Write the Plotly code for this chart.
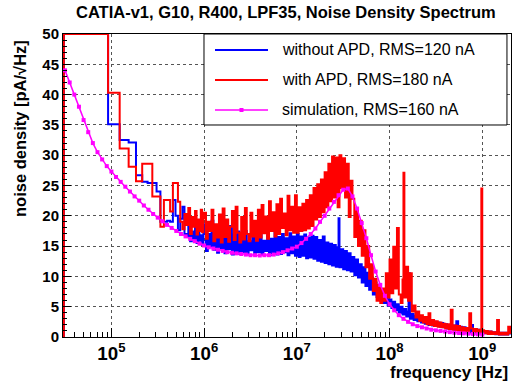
import math
import plotly.graph_objects as go

# ---------------- text ----------------
TITLE = "CATIA-v1, G10, R400, LPF35, Noise Density Spectrum"
X_TITLE = "frequency [Hz]"
Y_TITLE = "noise density [pA/\u221aHz]"
LEGEND_LABELS = ["without APD, RMS=120 nA", "with APD, RMS=180 nA", "simulation, RMS=160 nA"]

BLUE, RED, MAGENTA = "#0000ff", "#ff0000", "#ff00ff"

# ---------------- measured spectra: low-frequency histogram bins ----------------
BIN_WIDTH_HZ = 30.7e3   # FFT bin width; bin k starts at k*BIN_WIDTH_HZ (k = 1, 2, ...)
red_bins = [50, 50, 40.3, 31.1, 28.1, 25.7, 28.6, 28.6, 23.2, 23.2, 18.2, 22.6, 22.6, 20.7, 25.4, 25.4,
            22.3, 19.0, 17.8, 20.3, 18.5, 21.3, 17.0, 19.8, 18.2, 20.8, 16.9, 19.4, 17.5, 21.0, 17.3, 19.6]
blue_bins = [50, 50, 35.1, 32.5, 32.1, 26.7, 25.6, 25.4, 25.4, 24.0, 19.0, 19.0, 19.2, 19.0, 22.6, 20.0,
             17.6, 19.5, 21.5, 17.0, 16.5, 18.8, 15.8, 17.4, 16.2, 18.6, 15.5, 17.8, 15.9, 16.8, 15.2, 17.0]

# ---------------- measured spectra: dense region (log10 of frequency in Hz) ----------------
noise_logf = [
    6.00, 6.02, 6.04, 6.06, 6.08, 6.10, 6.12, 6.14, 6.16, 6.18,
    6.20, 6.22, 6.24, 6.26, 6.28, 6.30, 6.32, 6.34, 6.36, 6.38,
    6.40, 6.42, 6.44, 6.46, 6.48, 6.50, 6.52, 6.54, 6.56, 6.58,
    6.60, 6.62, 6.64, 6.66, 6.68, 6.70, 6.72, 6.74, 6.76, 6.78,
    6.80, 6.82, 6.84, 6.86, 6.88, 6.90, 6.92, 6.94, 6.96, 6.98,
    7.00, 7.02, 7.04, 7.06, 7.08, 7.10, 7.12, 7.14, 7.16, 7.18,
    7.20, 7.22, 7.24, 7.26, 7.28, 7.30, 7.32, 7.34, 7.36, 7.38,
    7.40, 7.42, 7.44, 7.46, 7.48, 7.50, 7.52, 7.54, 7.56, 7.58,
    7.60, 7.62, 7.64, 7.66, 7.68, 7.70, 7.72, 7.74, 7.76, 7.78,
    7.80, 7.82, 7.84, 7.86, 7.88, 7.90, 7.92, 7.94, 7.96, 7.98,
    8.00, 8.02, 8.04, 8.06, 8.08, 8.10, 8.12, 8.14, 8.16, 8.18,
    8.20, 8.22, 8.24, 8.26, 8.28, 8.30, 8.32, 8.34, 8.36, 8.38,
    8.40, 8.42, 8.44, 8.46, 8.48, 8.50, 8.52, 8.54, 8.56, 8.58,
    8.60, 8.62, 8.64, 8.66, 8.68, 8.70, 8.72, 8.74, 8.76, 8.78,
    8.80, 8.82, 8.84, 8.86, 8.88, 8.90, 8.92, 8.94, 8.96, 8.98,
    9.00, 9.02, 9.04, 9.06, 9.08, 9.10, 9.12, 9.14, 9.16, 9.18,
    9.20, 9.22, 9.24, 9.26, 9.28, 9.30,
]
red_noise = [
    20.5, 16.2, 19.0, 17.5, 21.0, 15.8, 18.6, 16.4, 20.2, 15.6,
    21.2, 16.5, 19.4, 15.7, 18.2, 20.8, 16.0, 21.5, 17.2, 15.6,
    19.8, 16.1, 21.3, 17.0, 15.8, 20.5, 16.6, 19.2, 15.9, 21.0,
    16.4, 21.8, 17.1, 19.9, 16.2, 22.4, 17.5, 20.6, 16.6, 21.9,
    17.0, 22.8, 18.0, 20.4, 16.8, 23.3, 17.6, 21.5, 17.2, 23.4,
    17.2, 21.4, 17.5, 22.0, 17.6, 22.6, 17.9, 23.4, 18.3, 24.6,
    19.4, 25.2, 19.8, 26.0, 20.6, 27.2, 21.4, 28.6, 22.4, 29.8,
    23.0, 29.6, 21.4, 30.0, 24.6, 29.5, 23.0, 28.6, 19.8, 25.8,
    22.8, 16.5, 21.0, 15.0, 19.2, 13.4, 17.6, 11.5, 15.0, 9.6,
    12.0, 7.6, 9.6, 6.0, 8.6, 5.6, 8.0, 6.0, 10.5, 6.5,
    12.8, 7.2, 14.9, 8.0, 18.0, 7.0, 5.6, 9.5, 6.5, 11.6,
    6.0, 10.5, 4.2, 5.2, 3.2, 4.2, 2.7, 3.6, 2.4, 3.3,
    2.1, 3.9, 2.0, 2.8, 1.8, 2.6, 1.7, 2.4, 1.6, 2.2,
    1.4, 2.1, 1.3, 4.5, 1.2, 1.9, 1.1, 1.8, 1.0, 1.6,
    0.9, 1.5, 0.9, 3.9, 1.4, 0.8, 1.3, 0.7, 1.2, 0.7,
    1.1, 0.6, 1.0, 0.5, 0.9, 0.5, 0.8, 0.5, 2.8, 0.4,
    0.7, 0.4, 0.7, 0.4, 1.7, 0.5,
]
blue_noise = [
    18.6, 14.2, 17.0, 15.0, 19.2, 14.4, 16.8, 13.9, 18.0, 14.6,
    17.6, 13.8, 16.2, 14.5, 18.3, 13.6, 16.9, 14.1, 17.4, 13.7,
    16.6, 14.0, 17.5, 13.6, 15.8, 14.3, 17.1, 13.5, 16.4, 14.0,
    17.0, 13.6, 15.9, 14.2, 16.8, 13.5, 16.2, 13.8, 17.2, 13.6,
    16.5, 13.7, 17.0, 14.0, 16.3, 13.5, 17.1, 13.8, 16.6, 13.4,
    17.0, 13.2, 16.6, 13.4, 16.9, 13.0, 16.4, 13.1, 16.7, 12.9,
    16.5, 12.6, 16.0, 12.4, 16.6, 12.2, 15.6, 12.0, 15.4, 11.8,
    15.2, 11.6, 14.8, 11.5, 14.5, 11.2, 14.2, 11.0, 13.8, 10.8,
    13.2, 10.2, 12.8, 9.8, 12.0, 9.0, 11.5, 8.4, 10.6, 7.8,
    9.8, 7.0, 9.0, 6.6, 8.4, 6.0, 7.6, 5.6, 7.0, 5.2,
    6.2, 4.8, 5.8, 4.4, 5.4, 4.0, 5.0, 3.7, 4.6, 3.4,
    4.2, 3.0, 3.8, 2.8, 3.5, 2.6, 3.2, 2.4, 3.1, 2.2,
    2.9, 2.0, 2.7, 1.9, 2.5, 1.8, 2.4, 1.7, 2.3, 1.6,
    2.1, 1.4, 2.0, 1.3, 1.9, 1.2, 2.6, 1.1, 1.7, 1.0,
    1.6, 0.9, 1.5, 0.8, 2.0, 0.8, 1.3, 0.7, 1.2, 0.6,
    1.0, 0.6, 0.9, 0.5, 0.9, 0.5, 0.8, 0.45, 0.8, 0.4,
    0.7, 0.4, 0.7, 0.4, 0.6, 0.4,
]
# isolated narrow lines (log10 f, value)
red_spike_logf = [8.15, 8.99]
red_spike_val = [27.1, 24.5]
blue_spike_logf = [7.45, 8.205]
blue_spike_val = [19.6, 10.5]

# ---------------- simulation ----------------
sim_logf = [
    4.50, 4.55, 4.60, 4.65, 4.70, 4.75, 4.80, 4.85, 4.90, 4.95,
    5.00, 5.05, 5.10, 5.15, 5.20, 5.25, 5.30, 5.35, 5.40, 5.45,
    5.50, 5.55, 5.60, 5.65, 5.70, 5.75, 5.80, 5.85, 5.90, 5.95,
    6.00, 6.05, 6.10, 6.15, 6.20, 6.25, 6.30, 6.35, 6.40, 6.45,
    6.50, 6.55, 6.60, 6.65, 6.70, 6.75, 6.80, 6.85, 6.90, 6.95,
    7.00, 7.05, 7.10, 7.15, 7.20, 7.25, 7.30, 7.35, 7.40, 7.45,
    7.50, 7.55, 7.60, 7.65, 7.70, 7.75, 7.80, 7.85, 7.90, 7.95,
    8.00, 8.05, 8.10, 8.15, 8.20, 8.25, 8.30, 8.35, 8.40, 8.45,
    8.50, 8.55, 8.60, 8.65, 8.70, 8.75, 8.80, 8.85, 8.90, 8.95,
    9.00,
]
sim_val = [
    44.0, 42.0, 40.0, 38.0, 35.8, 33.8, 32.0, 30.5, 29.3, 28.2,
    27.3, 26.4, 25.6, 24.8, 24.0, 23.2, 22.5, 21.7, 21.0, 20.3,
    19.7, 19.1, 18.5, 18.0, 17.5, 17.0, 16.6, 16.2, 15.8, 15.4,
    15.1, 14.8, 14.6, 14.4, 14.2, 14.0, 13.9, 13.8, 13.7, 13.6,
    13.5, 13.5, 13.45, 13.5, 13.5, 13.6, 13.8, 14.0, 14.3, 14.6,
    14.9, 15.5, 16.2, 17.0, 17.9, 19.0, 20.0, 21.2, 22.3, 23.4,
    24.3, 24.5, 23.2, 21.2, 18.8, 16.3, 13.5, 10.8, 8.6, 6.8,
    5.4, 4.4, 3.6, 3.0, 2.5, 2.1, 1.8, 1.6, 1.4, 1.2,
    1.1, 1.0, 0.9, 0.8, 0.7, 0.65, 0.6, 0.55, 0.5, 0.45,
    0.4,
]


def build_series(bins, noise, spike_logf, spike_val):
    # histogram outline: starts from the zero baseline at the first bin edge
    pts = [(BIN_WIDTH_HZ, 0.0)]
    pts += [((k + 1) * BIN_WIDTH_HZ, v) for k, v in enumerate(bins)]
    dense = [(10 ** lf, v) for lf, v in zip(noise_logf, noise)]
    dense += [(10 ** lf, v) for lf, v in zip(spike_logf, spike_val)]
    dense.sort(key=lambda p: p[0])
    pts += dense
    return [p[0] for p in pts], [p[1] for p in pts]


bx, by = build_series(blue_bins, blue_noise, blue_spike_logf, blue_spike_val)
rx, ry = build_series(red_bins, red_noise, red_spike_logf, red_spike_val)
sx = [10 ** lf for lf in sim_logf]

fig = go.Figure()
fig.add_trace(go.Scatter(x=bx, y=by, mode="lines", line=dict(color=BLUE, width=2, shape="hv"),
                         name=LEGEND_LABELS[0], showlegend=False))
fig.add_trace(go.Scatter(x=rx, y=ry, mode="lines", line=dict(color=RED, width=2, shape="hv"),
                         name=LEGEND_LABELS[1], showlegend=False))
fig.add_trace(go.Scatter(x=sx, y=sim_val, mode="lines+markers", line=dict(color=MAGENTA, width=1.5),
                         marker=dict(symbol="square", size=4, color=MAGENTA),
                         name=LEGEND_LABELS[2], showlegend=False))

FONT = "Liberation Sans"
axis_common = dict(
    ticks="inside", tickcolor="black", tickwidth=1,
    showgrid=True, gridcolor="#555555", griddash="dot", gridwidth=1,
    showline=True, linecolor="black", linewidth=1, mirror=True, zeroline=False,
    tickfont=dict(family=FONT, size=15, color="black", weight="bold"),
)
fig.update_xaxes(type="log", range=[4.478, 9.31], dtick=1, exponentformat="power", ticklen=9,
                 minor=dict(ticks="inside", ticklen=5, tickcolor="black", showgrid=False),
                 **axis_common)
fig.update_yaxes(range=[0, 50], tick0=0, dtick=5, ticklen=8,
                 minor=dict(dtick=1, ticks="inside", ticklen=4, tickcolor="black", showgrid=False),
                 **axis_common)

# ---------------- legend box (drawn manually, ROOT style) ----------------
L_X0, L_X1, L_Y0, L_Y1 = 0.3147, 0.991, 0.6997, 1.0
rows_y = [0.9472, 0.8482, 0.7492]
colors = [BLUE, RED, MAGENTA]
shapes = [dict(type="rect", xref="paper", yref="paper", x0=L_X0, x1=L_X1, y0=L_Y0, y1=L_Y1,
               line=dict(color="black", width=1), fillcolor="white", layer="above")]
annotations = []
for lab, yy, c in zip(LEGEND_LABELS, rows_y, colors):
    shapes.append(dict(type="line", xref="paper", yref="paper", x0=0.3393, x1=0.4576, y0=yy, y1=yy,
                       line=dict(color=c, width=2 if c != MAGENTA else 1.5), layer="above"))
    annotations.append(dict(text=lab, xref="paper", yref="paper", x=0.4844, y=yy, xanchor="left",
                            yanchor="middle", showarrow=False,
                            font=dict(family=FONT, size=16, color="black")))
shapes.append(dict(type="rect", xref="paper", yref="paper", xsizemode="pixel", ysizemode="pixel",
                   xanchor=0.3984, yanchor=rows_y[2], x0=-2, x1=2, y0=-2, y1=2,
                   line=dict(width=0), fillcolor=MAGENTA, layer="above"))

annotations.append(dict(text=TITLE, xref="paper", yref="paper", x=0.4978, y=1.0726, xanchor="center",
                        yanchor="middle", showarrow=False,
                        font=dict(family=FONT, size=16.5, color="black", weight="bold")))
annotations.append(dict(text=X_TITLE, xref="paper", yref="paper", x=0.9978, y=-0.1188, xanchor="right",
                        yanchor="middle", showarrow=False,
                        font=dict(family=FONT, size=17, color="black", weight="bold")))
annotations.append(dict(text=Y_TITLE, xref="paper", yref="paper", x=-0.096, y=0.6898, xanchor="center",
                        yanchor="middle", textangle=-90, showarrow=False,
                        font=dict(family=FONT, size=16.5, color="black", weight="bold")))

fig.update_layout(width=512, height=382, margin=dict(l=63, r=1, t=34, b=45),
                  paper_bgcolor="white", plot_bgcolor="white", showlegend=False,
                  shapes=shapes, annotations=annotations)

fig.write_html("out.html", config={"displayModeBar": False, "staticPlot": True},
               post_script="document.body.style.margin='0';document.body.style.padding='0';"
                           "document.body.style.overflow='hidden';")
